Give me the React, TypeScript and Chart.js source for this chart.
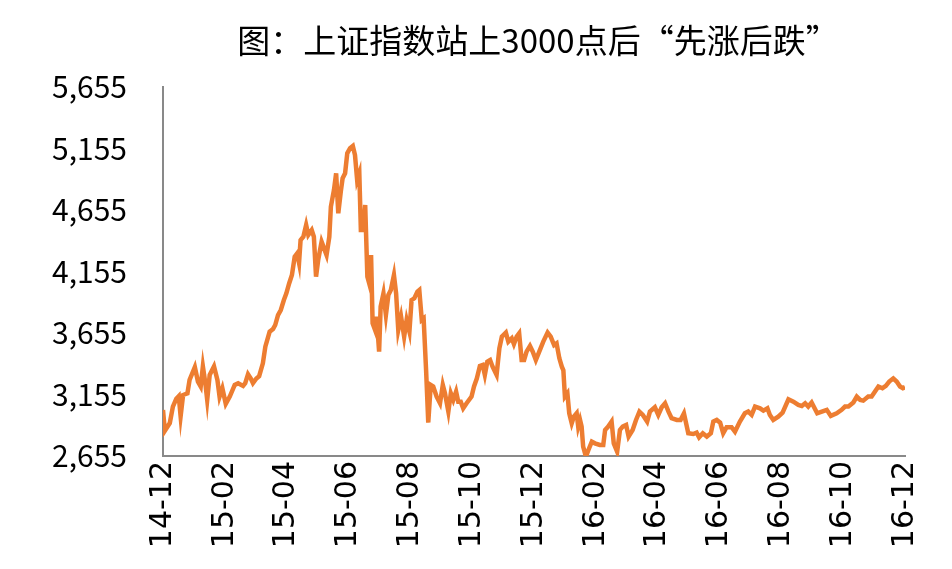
import React, { useEffect, useRef } from "react";
import { Chart, registerables } from "chart.js";

Chart.register(...registerables);

const titleText = "图：上证指数站上3000点后“先涨后跌”";

// x positions in months since 2014-12 (0 = 14-12, 24 = 16-12)
const monthPos: number[] = [
  0.0, 0.06, 0.22, 0.32, 0.43, 0.51, 0.57, 0.65, 0.79, 0.86, 1.03, 1.13, 1.22, 1.29, 1.37, 1.43, 1.51, 1.65, 1.76, 1.83,
  1.92, 2.03, 2.16, 2.32, 2.43, 2.59, 2.66, 2.75, 2.84, 2.91, 3.02, 3.11, 3.23, 3.31, 3.45, 3.56, 3.63, 3.72, 3.81, 3.91,
  3.99, 4.08, 4.17, 4.26, 4.34, 4.4, 4.45, 4.54, 4.63, 4.7, 4.81, 4.88, 4.95, 5.02, 5.13, 5.21, 5.29, 5.38, 5.43, 5.53,
  5.6, 5.67, 5.75, 5.81, 5.89, 5.96, 6.05, 6.14, 6.21, 6.28, 6.35, 6.4, 6.48, 6.54, 6.61, 6.67, 6.73, 6.78, 6.86, 6.91,
  6.99, 7.04, 7.13, 7.21, 7.29, 7.37, 7.47, 7.54, 7.61, 7.7, 7.8, 7.88, 7.97, 8.04, 8.13, 8.23, 8.29, 8.37, 8.43, 8.51,
  8.58, 8.66, 8.74, 8.85, 8.96, 9.05, 9.12, 9.23, 9.31, 9.39, 9.48, 9.55, 9.63, 9.71, 9.82, 9.98, 10.06, 10.15, 10.25, 10.34,
  10.41, 10.49, 10.58, 10.66, 10.79, 10.88, 10.96, 11.09, 11.17, 11.28, 11.35, 11.44, 11.52, 11.6, 11.68, 11.76, 11.87, 11.96, 12.06, 12.17,
  12.3, 12.44, 12.54, 12.65, 12.73, 12.82, 12.9, 12.95, 13.0, 13.08, 13.14, 13.22, 13.29, 13.38, 13.43, 13.49, 13.54, 13.59, 13.68, 13.76,
  13.87, 13.97, 14.13, 14.24, 14.3, 14.4, 14.51, 14.58, 14.69, 14.78, 14.87, 14.98, 15.06, 15.19, 15.3, 15.41, 15.52, 15.66, 15.75, 15.91,
  16.02, 16.13, 16.24, 16.35, 16.45, 16.62, 16.74, 16.85, 16.99, 17.15, 17.26, 17.34, 17.46, 17.59, 17.72, 17.8, 17.91, 18.02, 18.12, 18.23,
  18.39, 18.5, 18.66, 18.82, 18.93, 19.04, 19.15, 19.31, 19.42, 19.55, 19.63, 19.74, 19.9, 20.04, 20.23, 20.39, 20.55, 20.66, 20.77, 20.87,
  20.98, 21.16, 21.31, 21.47, 21.6, 21.79, 21.95, 22.06, 22.17, 22.33, 22.44, 22.55, 22.65, 22.81, 22.92, 23.03, 23.14, 23.27, 23.38, 23.49,
  23.62, 23.73, 23.84, 23.93, 24.0,
];

// 上证指数 close values
const indexValues: number[] = [
  3030, 2860, 2923, 3056, 3120, 3141, 2978, 3151, 3165, 3274, 3378, 3260, 3220, 3384, 3247, 3111, 3314, 3384, 3274, 3138,
  3206, 3079, 3138, 3233, 3247, 3225, 3247, 3320, 3285, 3247, 3285, 3304, 3408, 3544, 3666, 3688, 3720, 3801, 3842, 3923,
  3977, 4058, 4126, 4275, 4302, 4225, 4411, 4438, 4533, 4452, 4492, 4438, 4113, 4249, 4397, 4343, 4289, 4438, 4682, 4818,
  4953, 4628, 4804, 4913, 4953, 5116, 5157, 5175, 5102, 4899, 4953, 4492, 4492, 4696, 4113, 4058, 4289, 3734, 3679, 3788,
  3503, 3870, 3977, 3801, 3964, 4004, 4126, 3977, 3679, 3788, 3625, 3761, 3666, 3923, 3937, 3991, 4004, 3761, 3774, 3352,
  2926, 3233, 3220, 3138, 3084, 3233, 3165, 3016, 3165, 3111, 3179, 3097, 3097, 3043, 3084, 3138, 3220, 3285, 3387, 3395,
  3314, 3422, 3435, 3381, 3314, 3531, 3625, 3658, 3585, 3612, 3565, 3625, 3652, 3435, 3435, 3503, 3550, 3503, 3435, 3503,
  3585, 3658, 3625, 3557, 3571, 3449, 3381, 3352, 3138, 3165, 3002, 2921, 2975, 3002, 2894, 2948, 2894, 2731, 2650, 2704,
  2772, 2758, 2745, 2745, 2867, 2894, 2935, 2758, 2690, 2867, 2894, 2907, 2813, 2867, 2948, 3016, 2989, 2935, 3016, 3051,
  2989, 3051, 3084, 3016, 2962, 2948, 2948, 3002, 2840, 2834, 2845, 2807, 2840, 2813, 2840, 2935, 2948, 2926, 2840, 2889,
  2889, 2853, 2935, 3002, 3016, 2989, 3057, 3043, 3024, 3043, 2989, 2948, 2975, 3008, 3116, 3097, 3070, 3062, 3084, 3057,
  3090, 3002, 3016, 3030, 2981, 3002, 3030, 3057, 3057, 3090, 3138, 3111, 3105, 3138, 3138, 3179, 3220, 3206, 3225, 3260,
  3285, 3260, 3220, 3206, 3215,
];

const xTickLabels: string[] = [
  "14-12", "15-02", "15-04", "15-06", "15-08", "15-10", "15-12",
  "16-02", "16-04", "16-06", "16-08", "16-10", "16-12",
];

const yTicks: number[] = [2655, 3155, 3655, 4155, 4655, 5155, 5655];

export default function App() {
  const canvasRef = useRef<HTMLCanvasElement | null>(null);

  useEffect(() => {
    document.body.style.margin = "0";
    const canvas = canvasRef.current;
    if (!canvas) return;

    const titlePlugin = {
      id: "centerTitle",
      afterDraw(chart: any) {
        const { ctx, chartArea } = chart;
        ctx.save();
        ctx.fillStyle = "#000";
        ctx.font = '33px "Noto Sans CJK SC"';
        ctx.textAlign = "center";
        ctx.textBaseline = "middle";
        ctx.fillText(titleText, (chartArea.left + chartArea.right) / 2 + 4, 40);
        ctx.restore();
      },
    };

    const chart = new Chart(canvas, {
      type: "line",
      data: {
        datasets: [
          {
            label: "上证指数",
            data: monthPos.map((m, i) => ({ x: m, y: indexValues[i] })),
            borderColor: "#ED7D31",
            borderWidth: 4.5,
            pointRadius: 0,
            tension: 0,
            fill: false,
          },
        ],
      },
      options: {
        animation: false,
        responsive: false,
        maintainAspectRatio: false,
        layout: { padding: { top: 87, right: 47, left: 0, bottom: 0 } },
        plugins: {
          legend: { display: false },
          title: { display: false },
          tooltip: { enabled: false },
        },
        scales: {
          x: {
            type: "linear",
            min: 0,
            max: 24,
            afterBuildTicks(scale: any) {
              scale.ticks = xTickLabels.map((_, i) => ({ value: i * 2 }));
            },
            afterFit(scale: any) {
              scale.height = 113;
            },
            ticks: {
              autoSkip: false,
              maxRotation: 90,
              minRotation: 90,
              padding: 5,
              color: "#000",
              font: { family: "DejaVu Sans", size: 30 },
              callback: (v: any) => xTickLabels[Math.round(Number(v) / 2)] ?? "",
            },
            grid: { display: false, drawTicks: false },
            border: { display: true, color: "#898989", width: 2 },
          },
          y: {
            type: "linear",
            min: 2655,
            max: 5655,
            afterBuildTicks(scale: any) {
              scale.ticks = yTicks.map((v) => ({ value: v }));
            },
            afterFit(scale: any) {
              scale.width = 163;
            },
            ticks: {
              padding: 36,
              color: "#000",
              font: { family: "Noto Sans CJK SC", size: 30 },
              callback: (v: any) => Number(v).toLocaleString("en-US"),
            },
            grid: { display: false, drawTicks: false },
            border: { display: true, color: "#898989", width: 2 },
          },
        },
      },
      plugins: [titlePlugin],
    });

    return () => chart.destroy();
  }, []);

  return (
    <div style={{ position: "absolute", left: 0, top: 0, width: 952, height: 569 }}>
      <canvas ref={canvasRef} width={952} height={569} style={{ width: 952, height: 569 }} />
    </div>
  );
}
